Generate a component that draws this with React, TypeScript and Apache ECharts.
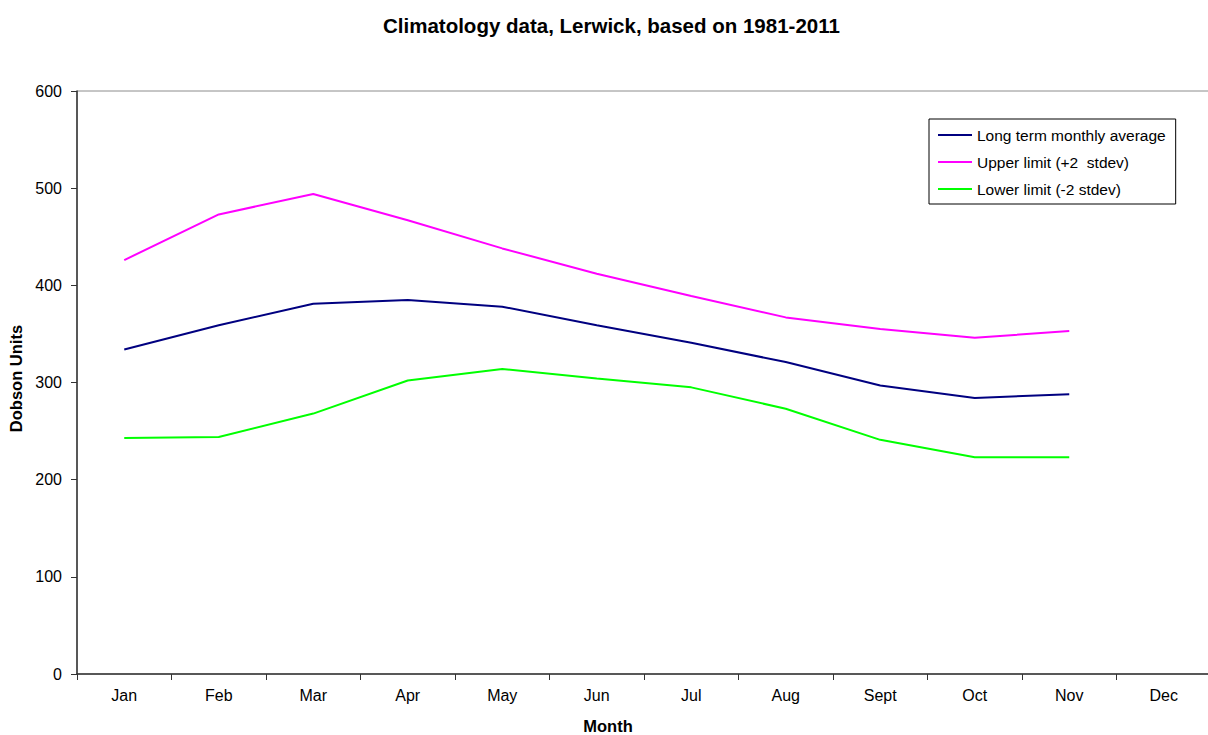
import React, { useEffect, useRef } from "react";
import * as echarts from "echarts";

const months = ["Jan", "Feb", "Mar", "Apr", "May", "Jun", "Jul", "Aug", "Sept", "Oct", "Nov", "Dec"];
const average = [334, 359, 381, 385, 378, 359, 341, 321, 297, 284, 288, null];
const upper = [426, 473, 494, 467, 438, 412, 389, 367, 355, 346, 353, null];
const lower = [243, 244, 268, 302, 314, 304, 295, 273, 241, 223, 223, null];
const seriesNames = ["Long term monthly average", "Upper limit (+2  stdev)", "Lower limit (-2 stdev)"];

export default function App() {
  const ref = useRef<HTMLDivElement>(null);
  useEffect(() => {
    document.body.style.margin = "0";
    const chart = echarts.init(ref.current!, null, { renderer: "svg" });
    const font = "'Liberation Sans', Arial, sans-serif";
    chart.setOption({
      animation: false,
      title: {
        text: "Climatology data, Lerwick, based on 1981-2011",
        left: 378,
        top: 10,
        padding: 5,
        textStyle: { fontFamily: font, fontSize: 20.5, fontWeight: "bold", color: "#000" },
      },
      legend: {
        orient: "vertical",
        left: 929,
        top: 119,
        selectedMode: false,
        icon: "rect",
        itemWidth: 34,
        itemHeight: 2,
        itemGap: 9,
        padding: [7, 10, 6, 9],
        borderColor: "#000",
        borderWidth: 1,
        textStyle: { fontFamily: font, fontSize: 15.5, color: "#000", lineHeight: 18 },
        data: seriesNames,
      },
      grid: {
        left: 77,
        top: 91,
        width: 1134,
        height: 583,
        outerBoundsMode: "none",
        containLabel: false,
        show: true,
        borderColor: "#8c8c8c",
        borderWidth: 1,
      },
      xAxis: {
        type: "category",
        data: months,
        boundaryGap: true,
        name: "Month",
        nameLocation: "middle",
        nameGap: 43,
        nameTextStyle: { fontFamily: font, fontSize: 16.5, fontWeight: "bold", color: "#000", padding: [0, 72, 0, 0] },
        axisLine: { lineStyle: { color: "#333", width: 1.5 } },
        axisTick: { show: true, length: 6, inside: false, alignWithLabel: false, lineStyle: { color: "#333" } },
        axisLabel: { fontFamily: font, fontSize: 16, color: "#000", margin: 13, interval: 0 },
        splitLine: { show: false },
      },
      yAxis: {
        type: "value",
        min: 0,
        max: 600,
        interval: 100,
        name: "Dobson Units",
        nameLocation: "middle",
        nameGap: 47,
        nameTextStyle: { fontFamily: font, fontSize: 16.5, fontWeight: "bold", color: "#000", padding: [0, 0, 0, 8] },
        axisLine: { show: true, lineStyle: { color: "#333", width: 1.5 } },
        axisTick: { show: true, length: 6, lineStyle: { color: "#333" } },
        axisLabel: { fontFamily: font, fontSize: 16, color: "#000", margin: 15 },
        splitLine: { show: false },
      },
      series: [
        { name: seriesNames[0], type: "line", data: average, showSymbol: false, symbol: "none", lineStyle: { color: "#000080", width: 2 }, itemStyle: { color: "#000080" } },
        { name: seriesNames[1], type: "line", data: upper, showSymbol: false, symbol: "none", lineStyle: { color: "#ff00ff", width: 2 }, itemStyle: { color: "#ff00ff" } },
        { name: seriesNames[2], type: "line", data: lower, showSymbol: false, symbol: "none", lineStyle: { color: "#00ff00", width: 2 }, itemStyle: { color: "#00ff00" } },
      ],
    });
    return () => chart.dispose();
  }, []);
  return <div ref={ref} style={{ width: 1208, height: 735 }} />;
}
